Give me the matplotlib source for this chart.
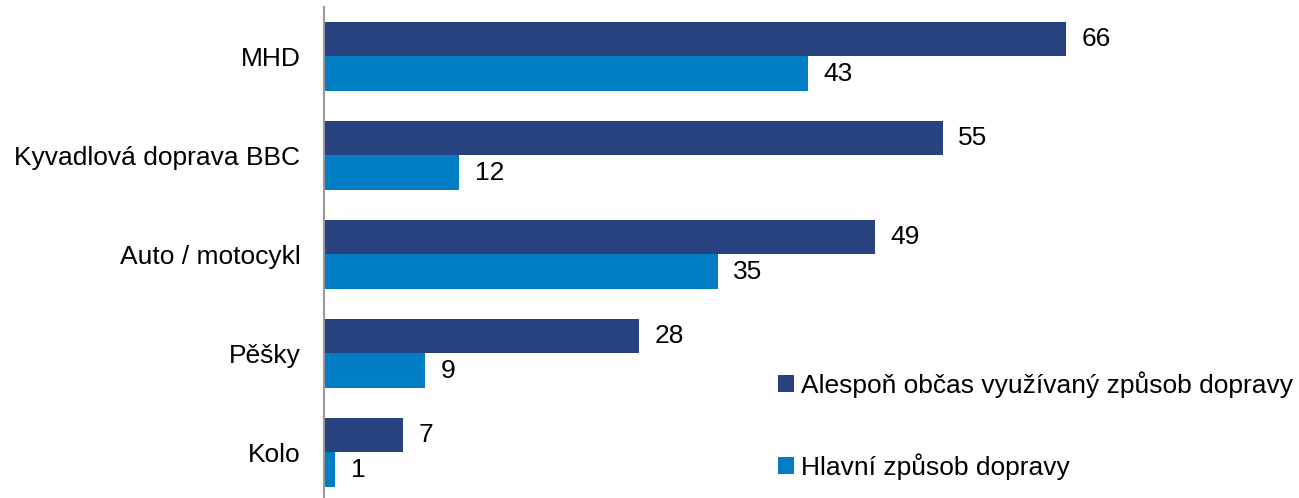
import matplotlib.pyplot as plt
import numpy as np

plt.rcParams["font.family"] = ["Liberation Sans", "DejaVu Sans"]

categories = ["MHD", "Kyvadlová doprava BBC", "Auto / motocykl", "Pěšky", "Kolo"]
occasional = [66, 55, 49, 28, 7]
main_mode = [43, 12, 35, 9, 1]
series_labels = ["Alespoň občas využívaný způsob dopravy", "Hlavní způsob dopravy"]

dark = "#27427f"
light = "#007dc3"
fs = 19

fig = plt.figure(figsize=(12.99, 4.98), dpi=100)
ax = fig.add_axes([0.2494, -0.008, 0.7506, 0.994])

y = np.arange(len(categories))
h = 0.345
b1 = ax.barh(y - h / 2, occasional, height=h, color=dark, label=series_labels[0])
b2 = ax.barh(y + h / 2, main_mode, height=h, color=light, label=series_labels[1])

for bars, vals in ((b1, occasional), (b2, main_mode)):
    for bar, v in zip(bars, vals):
        ax.text(bar.get_width() + 1.4, bar.get_y() + bar.get_height() / 2, str(v),
                va="center", ha="left", fontsize=fs)

ax.set_xlim(0, 86.7)
ax.set_ylim(len(categories) - 0.5, -0.5)
ax.set_yticks(y)
ax.set_yticklabels(categories, fontsize=fs)
ax.tick_params(axis="y", length=0, pad=17)
ax.set_xticks([])
for s in ["top", "right", "bottom"]:
    ax.spines[s].set_visible(False)
ax.spines["left"].set_color("#999999")
ax.spines["left"].set_linewidth(1.5)

ax.legend(loc="upper left", bbox_to_anchor=(0.466, 0.264), frameon=False,
          fontsize=fs, handlelength=0.6, handleheight=0.6, handletextpad=0.25,
          labelspacing=2.1, borderaxespad=0, borderpad=0)

fig.savefig("out.png", dpi=100)
